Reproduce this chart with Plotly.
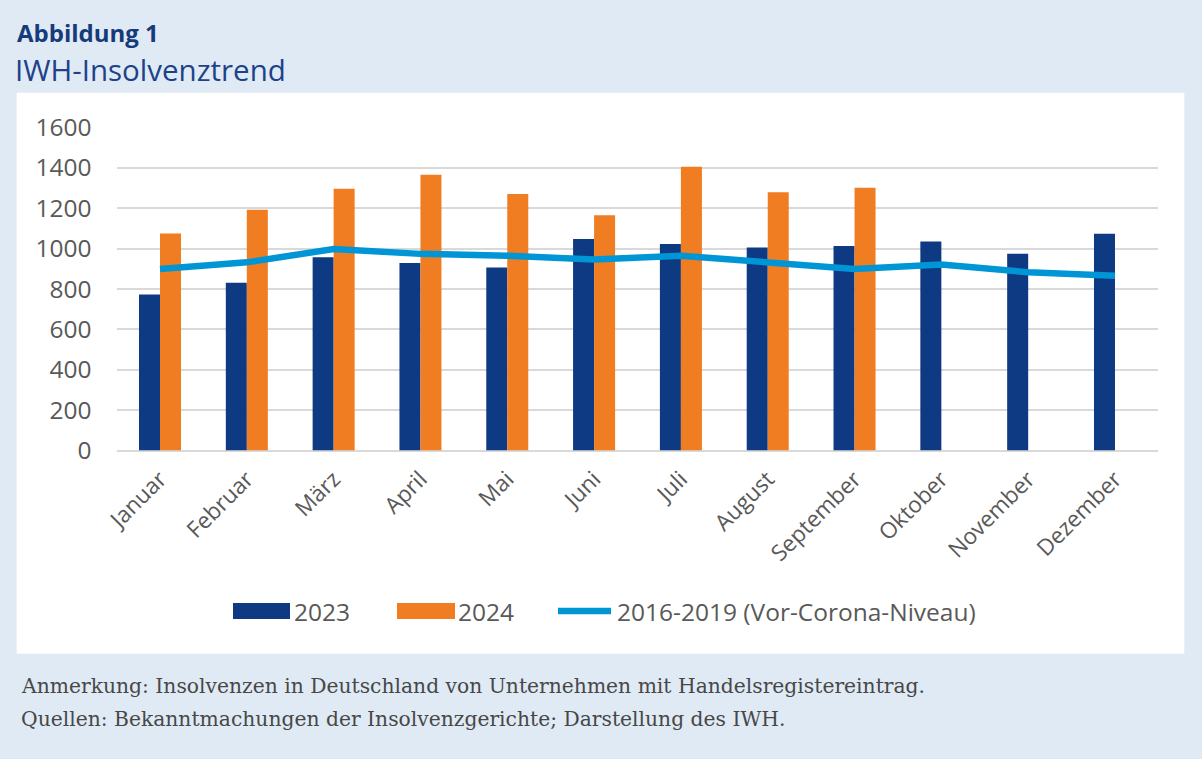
import plotly.graph_objects as go

W, H = 1202, 759

months = ["Januar", "Februar", "März", "April", "Mai", "Juni", "Juli",
          "August", "September", "Oktober", "November", "Dezember"]
values_2023 = [773, 831, 957, 929, 906, 1048, 1023, 1005, 1013, 1035, 974, 1074]
values_2024 = [1075, 1193, 1296, 1366, 1271, 1165, 1406, 1279, 1302, None, None, None]
values_precorona = [899, 932, 998, 974, 965, 946, 965, 932, 899, 921, 883, 866]

series_names = ["2023", "2024", "2016-2019 (Vor-Corona-Niveau)"]
y_ticks = [0, 200, 400, 600, 800, 1000, 1200, 1400, 1600]

NAVY = "#0e3a83"
ORANGE = "#f07d22"
CYAN = "#0096d6"
BG = "#dfeaf5"
TXT = "#595959"
AXFONT = "Open Sans"


def px_x(x):
    return x / W


def px_y(y):
    return 1 - y / H


fig = go.Figure()
fig.add_trace(go.Bar(x=months, y=values_2023, name=series_names[0],
                     marker=dict(color=NAVY, line=dict(width=0)), showlegend=False))
fig.add_trace(go.Bar(x=months, y=values_2024, name=series_names[1],
                     marker=dict(color=ORANGE, line=dict(width=0)), showlegend=False))
fig.add_trace(go.Scatter(x=months, y=values_precorona, name=series_names[2], mode="lines",
                         line=dict(color=CYAN, width=6.5), showlegend=False))

shapes = [
    # white chart panel
    dict(type="rect", xref="paper", yref="paper", layer="below",
         x0=px_x(16.7), x1=px_x(1184.3), y0=px_y(653.7), y1=px_y(92.7),
         fillcolor="white", line=dict(width=0)),
    # legend swatches
    dict(type="rect", xref="paper", yref="paper",
         x0=px_x(233), x1=px_x(290), y0=px_y(619), y1=px_y(603),
         fillcolor=NAVY, line=dict(width=0)),
    dict(type="rect", xref="paper", yref="paper",
         x0=px_x(397), x1=px_x(455), y0=px_y(619), y1=px_y(603),
         fillcolor=ORANGE, line=dict(width=0)),
    dict(type="line", xref="paper", yref="paper",
         x0=px_x(558), x1=px_x(611), y0=px_y(611), y1=px_y(611),
         line=dict(color=CYAN, width=6.5)),
]

annotations = [
    dict(text="<b>Abbildung 1</b>", x=px_x(16), y=px_y(32.5), xref="paper", yref="paper",
         xanchor="left", yanchor="middle", showarrow=False, borderpad=0,
         font=dict(family="Open Sans", size=24, color="#163a7a")),
    dict(text="IWH-Insolvenztrend", x=px_x(14), y=px_y(70), xref="paper", yref="paper",
         xanchor="left", yanchor="middle", showarrow=False, borderpad=0,
         font=dict(family="Open Sans", size=29.5, color="#1d4289")),
    dict(text=series_names[0], x=px_x(292), y=px_y(611), xref="paper", yref="paper",
         xanchor="left", yanchor="middle", showarrow=False,
         font=dict(family=AXFONT, size=24.5, color=TXT)),
    dict(text=series_names[1], x=px_x(456), y=px_y(611), xref="paper", yref="paper",
         xanchor="left", yanchor="middle", showarrow=False,
         font=dict(family=AXFONT, size=24.5, color=TXT)),
    dict(text=series_names[2], x=px_x(615), y=px_y(611), xref="paper", yref="paper",
         xanchor="left", yanchor="middle", showarrow=False,
         font=dict(family=AXFONT, size=24.5, color=TXT)),
    dict(text="Anmerkung: Insolvenzen in Deutschland von Unternehmen mit Handelsregistereintrag.",
         x=px_x(19), y=px_y(686), xref="paper", yref="paper",
         xanchor="left", yanchor="middle", showarrow=False,
         font=dict(family="DejaVu Serif", size=20.3, color="#474747")),
    dict(text="Quellen: Bekanntmachungen der Insolvenzgerichte; Darstellung des IWH.",
         x=px_x(19), y=px_y(719), xref="paper", yref="paper",
         xanchor="left", yanchor="middle", showarrow=False,
         font=dict(family="DejaVu Serif", size=20.3, color="#474747")),
]

fig.update_layout(
    width=W, height=H,
    margin=dict(l=0, r=0, t=0, b=0, pad=0, autoexpand=False),
    paper_bgcolor=BG, plot_bgcolor="rgba(0,0,0,0)",
    barmode="group", bargap=0.516, bargroupgap=0,
    showlegend=False,
    shapes=shapes, annotations=annotations,
    xaxis=dict(domain=[px_x(116.6), px_x(1158.4)], type="category",
               categoryorder="array", categoryarray=months, automargin=False,
               showgrid=False, showline=False, zeroline=False, ticks="",
               tickangle=-45, ticklabelstandoff=10,
               tickfont=dict(family=AXFONT, size=22.5, color=TXT)),
    yaxis=dict(domain=[px_y(450.5), px_y(127.5)], range=[0, 1600], automargin=False,
               tickvals=y_ticks, showgrid=True, gridcolor="#d9d9d9", gridwidth=2,
               zeroline=True, zerolinecolor="#d9d9d9", zerolinewidth=2,
               showline=False, ticks="", ticklabelstandoff=24,
               tickfont=dict(family=AXFONT, size=24.5, color=TXT)),
)

fig.write_html("out.html", config={"displayModeBar": False},
               post_script="document.body.style.margin='0';document.body.style.overflow='hidden';")
